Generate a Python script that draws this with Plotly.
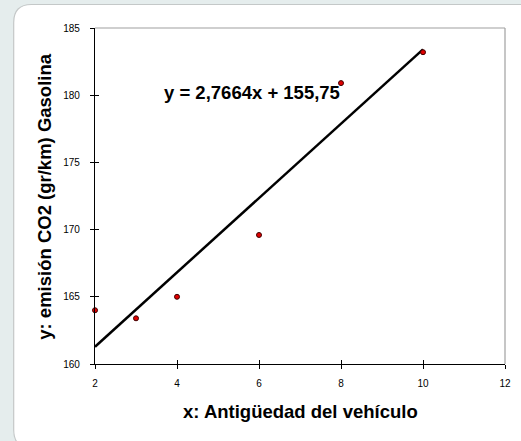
import plotly.graph_objects as go

# Data
antiguedad = [2, 3, 4, 6, 8, 10]
emision_co2 = [164.0, 163.4, 165.0, 169.6, 180.9, 183.2]
pendiente = 2.7664
intercepto = 155.75
x_ticks = [2, 4, 6, 8, 10, 12]
y_ticks = [160, 165, 170, 175, 180, 185]
ecuacion = "y = 2,7664x + 155,75"

W, H = 521, 441
L, R, T, B = 95, 10, 28, 77
PW, PH = W - L - R, H - T - B

def px(x):
    return (x - L) / PW

def py(y):
    return (H - B - y) / PH

trend_x = [min(antiguedad), max(antiguedad)]
trend_y = [pendiente * v + intercepto for v in trend_x]

fig = go.Figure()
fig.add_trace(go.Scatter(x=trend_x, y=trend_y, mode="lines",
                         line=dict(color="black", width=2.5), showlegend=False,
                         hoverinfo="skip"))
fig.add_trace(go.Scatter(x=antiguedad, y=emision_co2, mode="markers",
                         marker=dict(color="#e00000", size=5,
                                     line=dict(color="#400000", width=1)),
                         showlegend=False, cliponaxis=False))
# invisible trace for cross-tick overlay axes
fig.add_trace(go.Scatter(x=[x_ticks[0], x_ticks[-1]], y=[y_ticks[0], y_ticks[-1]],
                         xaxis="x2", yaxis="y2", mode="markers",
                         marker=dict(opacity=0), showlegend=False, hoverinfo="skip"))

font_family = "Liberation Sans, Arial, sans-serif"

# rounded panel (right/bottom edges lie outside the picture)
x0, y0, x1, y1, r = 12.5, 4.5, 600, 448, 18
path = (f"M {px(x0)},{py(y0 + r)} "
        f"Q {px(x0)},{py(y0)} {px(x0 + r)},{py(y0)} "
        f"L {px(x1 - r)},{py(y0)} "
        f"Q {px(x1)},{py(y0)} {px(x1)},{py(y0 + r)} "
        f"L {px(x1)},{py(y1 - r)} "
        f"Q {px(x1)},{py(y1)} {px(x1 - r)},{py(y1)} "
        f"L {px(x0 + r)},{py(y1)} "
        f"Q {px(x0)},{py(y1)} {px(x0)},{py(y1 - r)} Z")

shapes = [
    dict(type="path", xref="paper", yref="paper", path=path,
         fillcolor="white", line=dict(color="#c4c8c8", width=1.2), layer="below"),
    dict(type="line", xref="paper", yref="paper", x0=0, x1=1, y0=1, y1=1,
         line=dict(color="#a0a0a0", width=1.2), layer="below"),
    dict(type="line", xref="paper", yref="paper", x0=1, x1=1, y0=0, y1=1,
         line=dict(color="#a0a0a0", width=1.2), layer="below"),
]

axis_common = dict(showgrid=False, zeroline=False, showline=True, linecolor="black",
                   linewidth=1.2, ticks="outside", ticklen=4, tickcolor="black",
                   tickwidth=1, tickfont=dict(family=font_family, size=10, color="black"))

fig.update_layout(
    width=W, height=H,
    margin=dict(l=L, r=R, t=T, b=B, pad=0),
    paper_bgcolor="#e5eded",
    plot_bgcolor="rgba(0,0,0,0)",
    shapes=shapes,
    xaxis=dict(range=[2, 12], tickvals=x_ticks, ticktext=[str(v) for v in x_ticks],
               ticklabelstandoff=6, **axis_common),
    yaxis=dict(range=[160, 185], tickvals=y_ticks, ticktext=[str(v) for v in y_ticks],
               ticklabelstandoff=8, **axis_common),
    xaxis2=dict(overlaying="x", range=[2, 12], tickvals=x_ticks, ticks="inside",
                ticklen=4, tickcolor="black", showticklabels=False, showline=False,
                showgrid=False, zeroline=False, side="bottom"),
    yaxis2=dict(overlaying="y", range=[160, 185], tickvals=y_ticks, ticks="inside",
                ticklen=4, tickcolor="black", showticklabels=False, showline=False,
                showgrid=False, zeroline=False, side="left"),
    annotations=[
        dict(text=f"<b>{ecuacion}</b>", xref="paper", yref="paper",
             x=px(254.5), y=py(92), showarrow=False, xanchor="center", yanchor="middle",
             font=dict(family=font_family, size=18.5, color="black")),
        dict(text="<b>x: Antigüedad del vehículo</b>", xref="paper", yref="paper",
             x=px(303), y=py(411), showarrow=False, xanchor="center", yanchor="middle",
             font=dict(family=font_family, size=18.5, color="black")),
        dict(text="<b>y: emisión CO2 (gr/km) Gasolina</b>", xref="paper", yref="paper",
             x=px(43), y=py(196), showarrow=False, xanchor="center", yanchor="middle",
             textangle=-90, font=dict(family=font_family, size=18.5, color="black")),
    ],
)

fig.write_html("out.html", config={"displayModeBar": False},
               post_script="document.body.style.margin='0';"
                           "document.body.style.overflow='hidden';"
                           "document.documentElement.style.overflow='hidden';")
